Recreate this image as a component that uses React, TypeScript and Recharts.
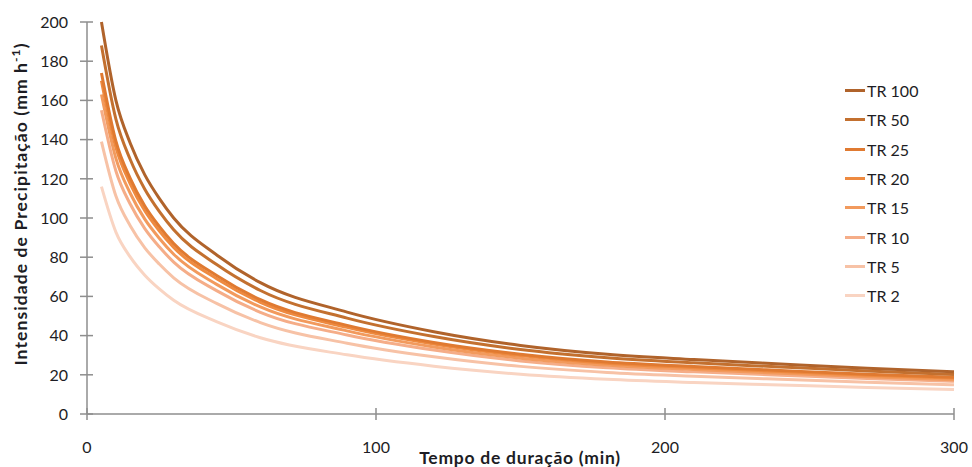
import { Legend, Line, LineChart, XAxis, YAxis } from "recharts";

// duração (min) e intensidade (mm/h)
const durations = [5, 10, 15, 20, 25, 30, 45, 60, 90, 120, 150, 180, 210, 240, 270, 300];
const tr100 = [200, 160, 138, 122, 110, 100, 81, 67, 52, 42, 35, 30.5, 27.8, 25.5, 23.3, 21.5];
const tr50 = [188, 150.4, 129.7, 114.7, 103.4, 94, 76.1, 63, 48.9, 39.5, 32.9, 28.7, 26.1, 24, 21.9, 20.2];
const tr25 = [174, 139.2, 120.1, 106.1, 95.7, 87, 70.5, 58.3, 45.2, 36.5, 30.5, 26.5, 24.2, 22.2, 20.3, 18.7];
const tr20 = [170, 136, 117.3, 103.7, 93.5, 85, 68.9, 57, 44.2, 35.7, 29.8, 25.9, 23.6, 21.7, 19.8, 18.3];
const tr15 = [163, 130.4, 112.5, 99.4, 89.7, 81.5, 66, 54.6, 42.4, 34.2, 28.5, 24.9, 22.7, 20.8, 19, 17.5];
const tr10 = [155, 124, 107, 94.6, 85.3, 77.5, 62.8, 51.9, 40.3, 32.6, 27.1, 23.6, 21.5, 19.8, 18.1, 16.7];
const tr5 = [139, 111.2, 95.9, 84.8, 76.5, 69.5, 56.3, 46.6, 36.1, 29.2, 24.3, 21.2, 19.3, 17.7, 16.2, 14.9];
const tr2 = [116, 92.8, 80, 70.8, 63.8, 58, 47, 38.9, 30.2, 24.4, 20.3, 17.7, 16.1, 14.8, 13.5, 12.5];

const seriesNames = ["TR 100", "TR 50", "TR 25", "TR 20", "TR 15", "TR 10", "TR 5", "TR 2"];
const seriesKeys = ["tr100", "tr50", "tr25", "tr20", "tr15", "tr10", "tr5", "tr2"];
const seriesValues = [tr100, tr50, tr25, tr20, tr15, tr10, tr5, tr2];
const colors = ["#b0632b", "#c3702f", "#e07a31", "#ee8a40", "#f29a5d", "#f5ad88", "#f7c2a6", "#f9d4c2"];

const xTicks = [0, 100, 200, 300];
const yTicks = [0, 20, 40, 60, 80, 100, 120, 140, 160, 180, 200];

const data = durations.map((t, i) => {
  const row: Record<string, number> = { t };
  seriesKeys.forEach((k, s) => {
    row[k] = seriesValues[s][i];
  });
  return row;
});

const FONT = "Lato, 'Open Sans', sans-serif";
const AXIS = "#8e8e8e";
const TEXT = "#1d1d24";

function YTick(props: any) {
  const { x, y, payload } = props;
  return (
    <g>
      <line x1={x - 7} x2={x + 6} y1={y} y2={y} stroke={AXIS} strokeWidth={1.5} />
      <text x={x - 19} y={y} dy="0.36em" textAnchor="end" fontSize={16} fill={TEXT} fontFamily={FONT}>
        {payload.value}
      </text>
    </g>
  );
}

function XTick(props: any) {
  const { x, y, payload } = props;
  return (
    <g>
      <line x1={x} x2={x} y1={y - 6} y2={y + 6} stroke={AXIS} strokeWidth={1.5} />
      <text x={x} y={y + 33} dy="0.36em" textAnchor="middle" fontSize={16} fill={TEXT} fontFamily={FONT}>
        {payload.value}
      </text>
    </g>
  );
}

function LegendBox() {
  return (
    <div style={{ fontFamily: FONT, fontSize: 16, color: TEXT }}>
      {seriesNames.map((name, i) => (
        <div key={name} style={{ display: "flex", alignItems: "center", height: 29.3 }}>
          <span style={{ display: "inline-block", width: 20, height: 3, background: colors[i], marginRight: 2 }} />
          <span>{name}</span>
        </div>
      ))}
    </div>
  );
}

export default function App() {
  return (
    <div style={{ position: "absolute", left: 0, top: 0, background: "#fff" }}>
      <LineChart width={972} height={467} data={data} margin={{ top: 22, right: 18, left: 0, bottom: 0 }}>
        <XAxis
          dataKey="t"
          type="number"
          domain={[0, 300]}
          ticks={xTicks}
          height={53}
          axisLine={{ stroke: AXIS, strokeWidth: 1.5 }}
          tickLine={false}
          tickSize={0}
          tickMargin={0}
          tick={<XTick />}
        />
        <YAxis
          type="number"
          domain={[0, 200]}
          ticks={yTicks}
          width={87}
          axisLine={{ stroke: AXIS, strokeWidth: 1.5 }}
          tickLine={false}
          tickSize={0}
          tickMargin={0}
          tick={<YTick />}
        />
        <Legend
          layout="vertical"
          align="center"
          verticalAlign="middle"
          wrapperStyle={{ left: 845, top: 76, width: 100 }}
          content={() => <LegendBox />}
        />
        {seriesKeys
          .map((k, i) => (
            <Line
              key={k}
              type="monotone"
              dataKey={k}
              name={seriesNames[i]}
              stroke={colors[i]}
              strokeWidth={3}
              dot={false}
              isAnimationActive={false}
            />
          ))
          .reverse()}
        <text
          x={520}
          y={464}
          textAnchor="middle"
          fontSize={17.5}
          fontWeight={700}
          fill={TEXT}
          fontFamily={FONT}
          letterSpacing={0.75}
        >
          Tempo de duração (min)
        </text>
        <text
          transform="translate(27, 204) rotate(-90)"
          textAnchor="middle"
          fontSize={17.5}
          fontWeight={700}
          fill={TEXT}
          fontFamily={FONT}
          letterSpacing={1.1}
        >
          Intensidade de Precipitação (mm h
          <tspan fontSize={12} dy={-7}>-1</tspan>
          <tspan dy={7}>)</tspan>
        </text>
      </LineChart>
    </div>
  );
}
